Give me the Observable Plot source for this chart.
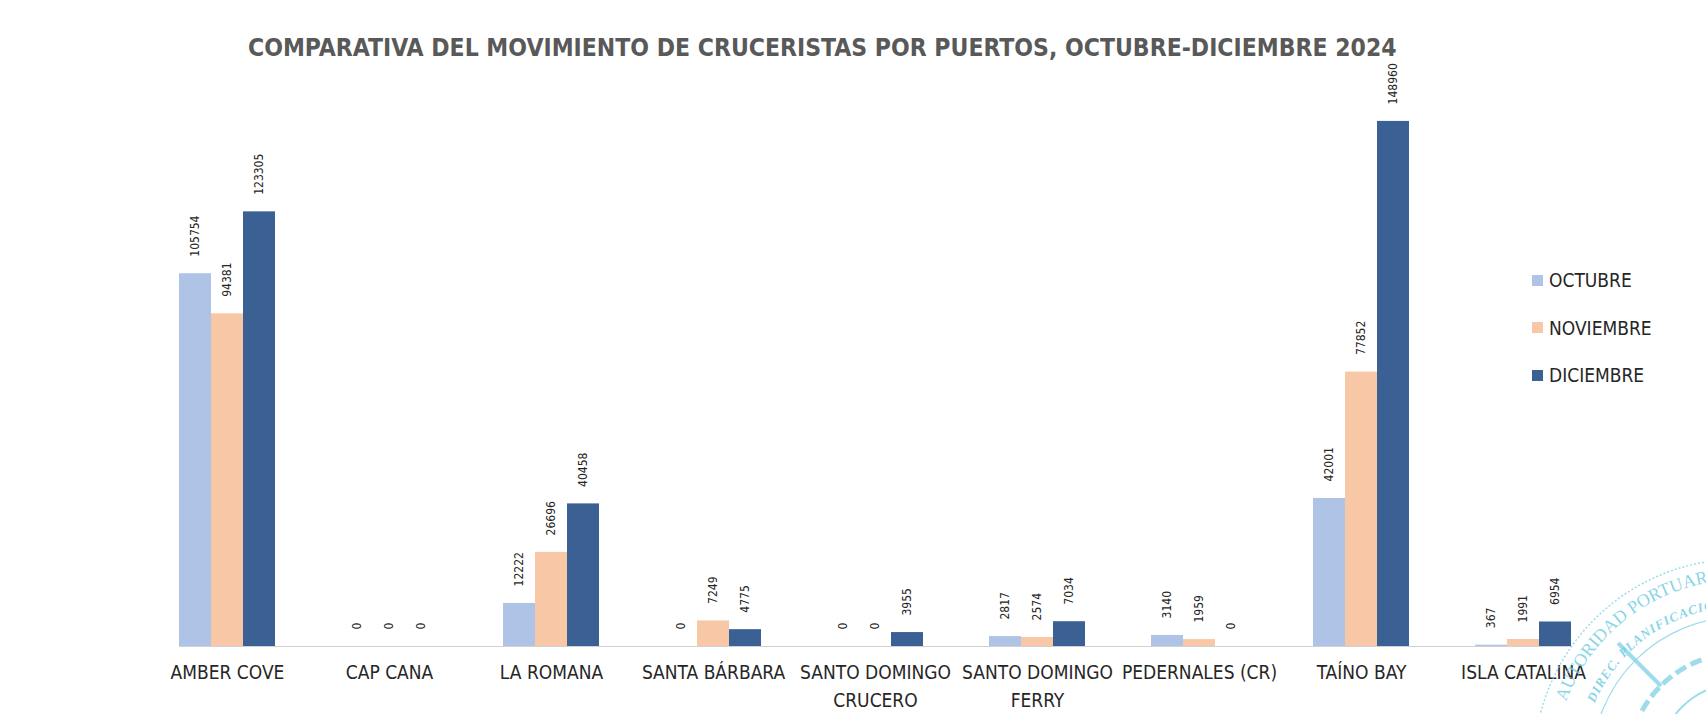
<!DOCTYPE html>
<html>
<head>
<meta charset="utf-8">
<script src="https://cdn.jsdelivr.net/npm/d3@7"></script>
<script src="https://cdn.jsdelivr.net/npm/@observablehq/plot@0.6"></script>
<style>
  body { margin: 0; background: #fff; }
  #wrap { position: relative; width: 1706px; height: 714px; overflow: hidden; background: #fff;
          font-family: "DejaVu Sans Condensed", "Liberation Sans Narrow", sans-serif; }
  #title { position: relative; height: 64px; }
  #title span { position: absolute; left: 248px; top: 34px; font-size: 24.5px; line-height: 27px;
                font-weight: bold; color: #595959; white-space: nowrap; }
  #legend { position: absolute; left: 1532px; top: 268.5px; }
  .item { display: flex; align-items: center; height: 23px; margin-bottom: 24.5px;
          font-size: 19px; color: #262626; }
  .sw { width: 11px; height: 11px; margin-right: 6px; }
  #stamp { position: absolute; left: 0; top: 0; pointer-events: none; }
</style>
</head>
<body>
<div id="wrap">
  <div id="title"><span>COMPARATIVA DEL MOVIMIENTO DE CRUCERISTAS POR PUERTOS, OCTUBRE-DICIEMBRE 2024</span></div>
  <div id="chart"></div>
  <div id="legend"></div>
  <svg id="stamp" width="1706" height="714" xmlns="http://www.w3.org/2000/svg">
    <defs>
      <path id="arcOuter" d="M 1566.2 701.7 A 185 185 0 0 1 1913.8 701.7"/>
      <path id="arcInner" d="M 1594.6 703.3 A 158 158 0 0 1 1885.4 703.3"/>
    </defs>
    <g fill="none" stroke="#86d3e7" stroke-opacity="0.8">
      <circle cx="1740" cy="765" r="206" stroke-width="1.5" stroke-dasharray="2 2"/>
      <circle cx="1740" cy="765" r="148" stroke-width="1.2"/>
      <circle cx="1740" cy="765" r="112" stroke-width="5" stroke-dasharray="12 5"/>
      <circle cx="1740" cy="765" r="82" stroke-width="2"/>
      <circle cx="1740" cy="765" r="48" stroke-width="2"/>
      <path d="M 1740 653 L 1740 590 M 1661 686 L 1618 643 M 1628 765 L 1568 765" stroke-width="4"/>
    </g>
    <g fill="#74cde3" fill-opacity="0.85" font-family="Liberation Serif, serif">
      <text font-size="18"><textPath href="#arcOuter">AUTORIDAD PORTUARIA</textPath></text>
      <text font-size="13" font-weight="bold" letter-spacing="1" font-style="italic"><textPath href="#arcInner">DIREC. PLANIFICACION</textPath></text>
    </g>
  </svg>
</div>
<script>
const ports = ["AMBER COVE", "CAP CANA", "LA ROMANA", "SANTA BÁRBARA", "SANTO DOMINGO\nCRUCERO",
               "SANTO DOMINGO\nFERRY", "PEDERNALES (CR)", "TAÍNO BAY", "ISLA CATALINA"];
const months = ["OCTUBRE", "NOVIEMBRE", "DICIEMBRE"];
const octubre   = [105754, 0, 12222, 0,    0,    2817, 3140, 42001,  367];
const noviembre = [94381,  0, 26696, 7249, 0,    2574, 1959, 77852,  1991];
const diciembre = [123305, 0, 40458, 4775, 3955, 7034, 0,    148960, 6954];
const colors = ["#aec3e6", "#f8c8a6", "#3b6194"];

const series = [octubre, noviembre, diciembre];
const data = ports.flatMap((p, i) => months.map((m, j) => ({port: p, month: m, value: series[j][i]})));

const font = '"DejaVu Sans Condensed", "Liberation Sans Narrow", sans-serif';

const chart = Plot.plot({
  width: 1706,
  height: 650,
  marginLeft: 146,
  marginRight: 103,
  marginTop: 18,
  marginBottom: 68,
  style: {fontFamily: font, background: "transparent", overflow: "visible"},
  fx: {domain: ports, paddingInner: 0.41, paddingOuter: 0.2, label: null},
  x: {domain: months, padding: 0, axis: null},
  y: {domain: [0, 160000], axis: null},
  color: {domain: months, range: colors},
  marks: [
    Plot.frame({anchor: "bottom", facet: "super", stroke: "#d2d2d2", strokeWidth: 1}),
    Plot.barY(data, {fx: "port", x: "month", y: "value", fill: "month"}),
    Plot.text(data, {fx: "port", x: "month", y: "value", text: d => String(d.value),
      rotate: -90, textAnchor: "start", dy: -17, fontSize: 12, fill: "#262626"}),
    Plot.axisFx({anchor: "bottom", tickSize: 0, tickPadding: 13, fontSize: 19, lineHeight: 1.45,
      fill: "#262626", label: null})
  ]
});
document.getElementById("chart").appendChild(chart);

const legend = document.getElementById("legend");
months.forEach((m, j) => {
  const it = document.createElement("div");
  it.className = "item";
  const sw = document.createElement("div");
  sw.className = "sw";
  sw.style.background = colors[j];
  const tx = document.createElement("span");
  tx.textContent = m;
  it.appendChild(sw);
  it.appendChild(tx);
  legend.appendChild(it);
});
</script>
</body>
</html>
